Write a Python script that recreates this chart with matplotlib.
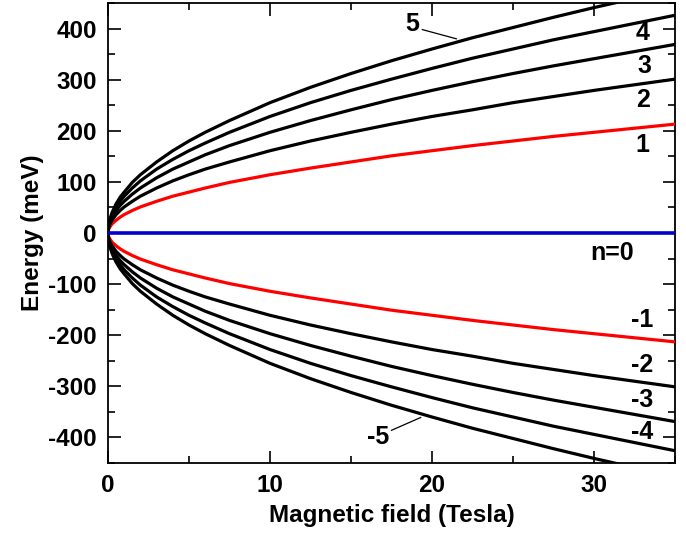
import numpy as np
import matplotlib
matplotlib.use("Agg")
import matplotlib.pyplot as plt
from matplotlib.ticker import MultipleLocator

plt.rcParams['font.family'] = ['Liberation Sans', 'DejaVu Sans']
plt.rcParams['font.weight'] = 'bold'
plt.rcParams['axes.unicode_minus'] = False

# magnetic field (Tesla) sample points
field = [0, 0.02, 0.05, 0.1, 0.25, 0.5, 0.75, 1, 1.5, 2, 3, 4, 5, 6, 7.5,
         10, 12.5, 15, 17.5, 20, 22.5, 25, 27.5, 30, 32.5, 35]

# energies (meV), positive levels n=1..5
level_1 = [0, 5, 8, 11, 18, 25, 31, 36, 44, 51, 62, 72, 80, 88, 99,
           114, 127, 139, 151, 161, 171, 180, 189, 197, 205, 213]
level_2 = [0, 7, 11, 16, 25, 36, 44, 51, 62, 72, 88, 102, 114, 125, 139,
           161, 180, 197, 213, 228, 241, 255, 267, 279, 290, 301]
level_3 = [0, 9, 14, 20, 31, 44, 54, 62, 76, 88, 108, 125, 139, 153, 171,
           197, 220, 241, 261, 279, 296, 312, 327, 341, 355, 369]
level_4 = [0, 10, 16, 23, 36, 51, 62, 72, 88, 102, 125, 144, 161, 176, 197,
           228, 255, 279, 301, 322, 342, 360, 378, 394, 410, 426]
level_5 = [0, 11, 18, 25, 40, 57, 70, 80, 99, 114, 139, 161, 180, 197, 220,
           255, 285, 312, 337, 360, 382, 402, 422, 441, 459, 476]

fig = plt.figure(figsize=(6.86, 5.43), dpi=100)
ax = fig.add_axes([108/686, 1 - 463/543, 567/686, 460/543])

b = np.array(field)
levels = [level_1, level_2, level_3, level_4, level_5]
for i, lev in enumerate(levels):
    col = 'red' if i == 0 else 'black'
    e = np.array(lev)
    ax.plot(b, e, color=col, lw=2.3, zorder=3, solid_joinstyle='round')
    ax.plot(b, -e, color=col, lw=2.3, zorder=3, solid_joinstyle='round')
ax.plot(b, np.zeros(len(b)), color='#0000cc', lw=2.6, zorder=3)

ax.set_xlim(0, 35)
ax.set_ylim(-450, 450)
ax.xaxis.set_major_locator(MultipleLocator(10))
ax.xaxis.set_minor_locator(MultipleLocator(5))
ax.yaxis.set_major_locator(MultipleLocator(100))
ax.yaxis.set_minor_locator(MultipleLocator(50))
ax.tick_params(which='both', direction='in', top=True, right=True, width=1.2)
ax.tick_params(which='major', length=9, labelsize=17.5, pad=8)
ax.tick_params(which='minor', length=5)
for s in ax.spines.values():
    s.set_linewidth(1.3)
for lab in ax.get_xticklabels() + ax.get_yticklabels():
    lab.set_fontweight('bold')

ax.set_xlabel('Magnetic field (Tesla)', fontsize=17.5, fontweight='bold', labelpad=5)
ax.set_ylabel('Energy (meV)', fontsize=17.5, fontweight='bold', labelpad=3)

fs = 18
for txt, x, y in [('4', 33.0, 392), ('3', 33.1, 327), ('2', 33.0, 261), ('1', 33.0, 172),
                  ('n=0', 31.1, -39), ('-1', 33.0, -170), ('-2', 33.0, -259),
                  ('-3', 33.0, -327), ('-4', 33.0, -390)]:
    ax.text(x, y, txt, fontsize=fs, fontweight='bold', ha='center', va='center')

ax.text(18.8, 408, '5', fontsize=fs, fontweight='bold', ha='center', va='center')
ax.plot([19.4, 21.5], [398, 380], color='black', lw=0.9)
ax.text(16.7, -400, '-5', fontsize=fs, fontweight='bold', ha='center', va='center')
ax.plot([17.5, 19.3], [-386, -361], color='black', lw=0.9)

fig.savefig('out.png', dpi=100)
